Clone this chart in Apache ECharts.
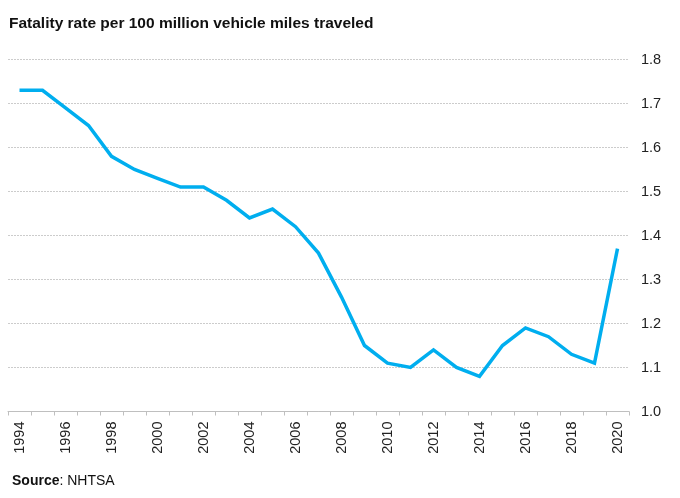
<!DOCTYPE html>
<html>
<head>
<meta charset="utf-8">
<script src="https://cdn.jsdelivr.net/npm/echarts@6/dist/echarts.min.js"></script>
<style>html,body{margin:0;padding:0;background:#fff}#c{width:680px;height:498px}</style>
</head>
<body>
<div id="c"></div>
<script>
const years = ['1994','1995','1996','1997','1998','1999','2000','2001','2002','2003','2004','2005','2006','2007','2008','2009','2010','2011','2012','2013','2014','2015','2016','2017','2018','2019','2020'];
const fatalityRate = [1.73,1.73,1.69,1.65,1.58,1.55,1.53,1.51,1.51,1.48,1.44,1.46,1.42,1.36,1.26,1.15,1.11,1.10,1.14,1.10,1.08,1.15,1.19,1.17,1.13,1.11,1.37];
const titleText = 'Fatality rate per 100 million vehicle miles traveled';
const sourceLabel = 'Source';
const sourceText = ': NHTSA';

const chart = echarts.init(document.getElementById('c'), null, {renderer: 'canvas'});
chart.setOption({
  animation: false,
  backgroundColor: '#ffffff',
  textStyle: {fontFamily: 'Liberation Sans, Arial, sans-serif'},
  title: [{
    text: titleText,
    left: 4, top: 11,
    textStyle: {fontSize: 15.5, fontWeight: 'bold', color: '#111', fontFamily: 'Liberation Sans, Arial, sans-serif'}
  }, {
    text: '{b|' + sourceLabel + '}{n|' + sourceText + '}',
    left: 7, top: 469,
    textStyle: {
      fontWeight: 'normal', fontSize: 14, color: '#111',
      rich: {
        b: {fontSize: 14, fontWeight: 'bold', color: '#111', fontFamily: 'Liberation Sans, Arial, sans-serif'},
        n: {fontSize: 14, fontWeight: 'normal', color: '#111', fontFamily: 'Liberation Sans, Arial, sans-serif'}
      }
    }
  }],
  grid: {left: 8, right: 51, top: 59.5, bottom: 86.5, containLabel: false},
  xAxis: {
    type: 'category',
    data: years,
    boundaryGap: true,
    axisLine: {lineStyle: {color: '#bfbfbf', width: 1}},
    axisTick: {show: true, interval: 0, length: 4, lineStyle: {color: '#bfbfbf'}},
    axisLabel: {rotate: 90, interval: 1, margin: 10, fontSize: 14.5, color: '#222', fontFamily: 'Liberation Sans, Arial, sans-serif'},
    splitLine: {show: false}
  },
  yAxis: {
    type: 'value',
    position: 'right',
    min: 1.0, max: 1.8, interval: 0.1,
    axisLine: {show: false},
    axisTick: {show: false},
    axisLabel: {margin: 12, fontSize: 14.5, color: '#222', formatter: v => v.toFixed(1), fontFamily: 'Liberation Sans, Arial, sans-serif'},
    splitLine: {show: true, lineStyle: {color: '#cccccc', type: [2, 1], width: 1}}
  },
  series: [{
    type: 'line',
    data: fatalityRate,
    symbol: 'none',
    lineStyle: {color: '#00AEEF', width: 3.5, join: 'miter'},
    itemStyle: {color: '#00AEEF'}
  }]
});
</script>
</body>
</html>
